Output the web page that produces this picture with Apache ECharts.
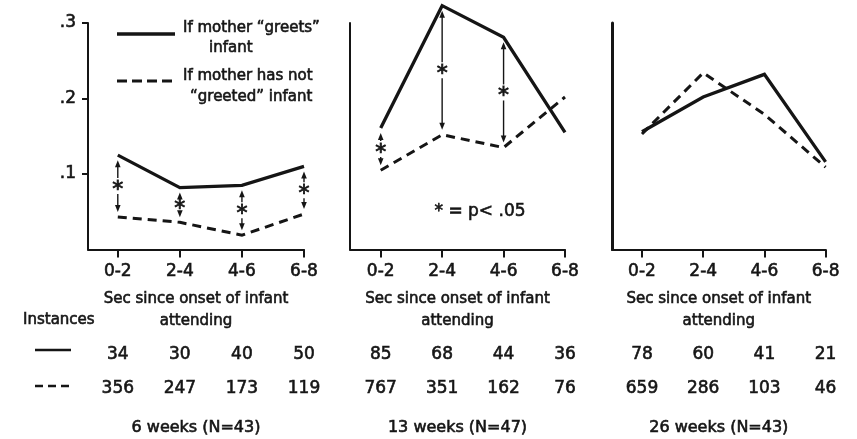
<!DOCTYPE html>
<html>
<head>
<meta charset="utf-8">
<script src="https://cdn.jsdelivr.net/npm/echarts@6/dist/echarts.min.js"></script>
<style>
  html, body { margin: 0; padding: 0; background: #fff; }
  #chart { width: 857px; height: 439px; }
</style>
</head>
<body>
<div id="chart"></div>
<script>
// Interval categories (seconds since onset of infant attending)
const categories = ['0-2', '2-4', '4-6', '6-8'];
const yTickValues = [0.1, 0.2, 0.3];
const yTickLabels = ['.1', '.2', '.3'];

// Proportions: mother "greets" infant (solid) vs has not greeted (dashed)
const greets6 = [0.125, 0.082, 0.085, 0.110];
const notGreeted6 = [0.043, 0.036, 0.019, 0.047];
const greets13 = [0.161, 0.323, 0.281, 0.155];
const notGreeted13 = [0.105, 0.152, 0.135, 0.202];
const greets26 = [0.156, 0.202, 0.232, 0.116];
const notGreeted26 = [0.153, 0.234, 0.179, 0.109];

// Significant differences (p < .05)
const sig6 = [true, true, true, true];
const sig13 = [true, true, true, false];
const sig26 = [false, false, false, false];

// Instances per interval
const instGreets6 = [34, 30, 40, 50];
const instNot6 = [356, 247, 173, 119];
const instGreets13 = [85, 68, 44, 36];
const instNot13 = [767, 351, 162, 76];
const instGreets26 = [78, 60, 41, 21];
const instNot26 = [659, 286, 103, 46];

const panelTitles = ['6 weeks (N=43)', '13 weeks (N=47)', '26 weeks (N=43)'];
const axisName = 'Sec since onset of infant\nattending';
const legendGreets = ['If mother \u201Cgreets\u201D', 'infant'];
const legendNot = ['If mother has not', '\u201Cgreeted\u201D infant'];
const pNote = '* = p< .05';
const instancesLabel = 'Instances';

const INK = '#151515';
const FONT = 'DejaVu Sans';
// slightly heavier lettering
const heavy = { textBorderColor: INK, textBorderWidth: 0.6 };

const panels = [
  { g: greets6, n: notGreeted6, sig: sig6, ig: instGreets6, inn: instNot6,
    left: 88, width: 216, xmin: -0.48, yLabels: true, yAxisW: 2 },
  { g: greets13, n: notGreeted13, sig: sig13, ig: instGreets13, inn: instNot13,
    left: 350, width: 215, xmin: -0.5, yLabels: false, yAxisW: 2 },
  { g: greets26, n: notGreeted26, sig: sig26, ig: instGreets26, inn: instNot26,
    left: 612, width: 213.6, xmin: -0.49, yLabels: false, yAxisW: 3 }
];

const idx = categories.map((c, i) => i);
const grids = [], xAxes = [], yAxes = [], series = [];

panels.forEach((p, k) => {
  grids.push({ left: p.left, top: 23, width: p.width, height: 226.5, outerBoundsMode: 'none', containLabel: false });

  const baseX = { type: 'value', gridIndex: k, position: 'bottom', offset: 0,
    min: p.xmin, max: 3, splitLine: { show: false } };
  // main category axis
  xAxes.push(Object.assign({}, baseX, {
    axisLine: { show: true, onZero: false, lineStyle: { color: INK, width: 2 } },
    axisTick: { show: true, customValues: idx, length: 8, lineStyle: { color: INK, width: 2 } },
    axisLabel: Object.assign({ customValues: idx, formatter: v => categories[v], margin: 14,
      color: INK, fontFamily: FONT, fontSize: 17 }, heavy),
    name: axisName, nameLocation: 'middle', nameGap: 39,
    nameTextStyle: Object.assign({ color: INK, fontFamily: FONT, fontSize: 15, lineHeight: 22 }, heavy)
  }));
  // instances row: mother greets
  xAxes.push(Object.assign({}, baseX, {
    axisLine: { show: false, onZero: false }, axisTick: { show: false },
    axisLabel: Object.assign({ customValues: idx, formatter: v => String(p.ig[v]), margin: 97,
      color: INK, fontFamily: FONT, fontSize: 17 }, heavy)
  }));
  // instances row: not greeted, plus panel title
  xAxes.push(Object.assign({}, baseX, {
    axisLine: { show: false, onZero: false }, axisTick: { show: false },
    axisLabel: Object.assign({ customValues: idx, formatter: v => String(p.inn[v]), margin: 131,
      color: INK, fontFamily: FONT, fontSize: 17 }, heavy),
    name: panelTitles[k], nameLocation: 'middle', nameGap: 170,
    nameTextStyle: Object.assign({ color: INK, fontFamily: FONT, fontSize: 16 }, heavy)
  }));

  yAxes.push({
    type: 'value', gridIndex: k, min: 0, max: 0.3,
    splitLine: { show: false },
    axisLine: { show: true, onZero: false, lineStyle: { color: INK, width: p.yAxisW } },
    axisTick: { show: p.yLabels, customValues: yTickValues, length: 6, lineStyle: { color: INK, width: 2 } },
    axisLabel: Object.assign({ show: p.yLabels, customValues: yTickValues,
      formatter: v => yTickLabels[yTickValues.findIndex(t => Math.abs(t - v) < 1e-6)],
      margin: 12, color: INK, fontFamily: FONT, fontSize: 17 }, heavy)
  });

  const xi = k * 3;
  series.push({
    type: 'line', name: 'greets', xAxisIndex: xi, yAxisIndex: k,
    data: p.g.map((v, i) => [i, v]), symbol: 'none', clip: false, silent: true,
    lineStyle: { color: INK, width: 3.3, join: 'miter' }
  });
  series.push({
    type: 'line', name: 'not greeted', xAxisIndex: xi, yAxisIndex: k,
    data: p.n.map((v, i) => [i, v]), symbol: 'none', clip: false, silent: true,
    lineStyle: { color: INK, width: 3, type: [9, 6], join: 'miter' }
  });
  // double-headed arrows with asterisk where the difference is significant
  series.push({
    type: 'custom', xAxisIndex: xi, yAxisIndex: k, clip: false, silent: true, z: 5,
    data: idx.filter(i => p.sig[i]).map(i => [i, p.g[i], p.n[i]]),
    encode: { x: 0, y: [1, 2] },
    renderItem: (params, api) => {
      const a = api.coord([api.value(0), api.value(1)]);
      const b = api.coord([api.value(0), api.value(2)]);
      const cx = a[0];
      const top = a[1] + 5, bot = b[1] - 5, mid = (a[1] + b[1]) / 2;
      const ls = { stroke: INK, lineWidth: 1.4 };
      const fs = { fill: INK };
      return {
        type: 'group',
        children: [
          { type: 'line', shape: { x1: cx, y1: top + 3, x2: cx, y2: mid - 8 }, style: ls },
          { type: 'line', shape: { x1: cx, y1: mid + 8, x2: cx, y2: bot - 3 }, style: ls },
          { type: 'polygon', shape: { points: [[cx, top], [cx - 2.8, top + 7], [cx + 2.8, top + 7]] }, style: fs },
          { type: 'polygon', shape: { points: [[cx, bot], [cx - 2.8, bot - 7], [cx + 2.8, bot - 7]] }, style: fs },
          { type: 'text', x: cx, y: mid + 4, style: { text: '*', fill: INK, fontFamily: FONT,
            fontSize: 22, align: 'center', verticalAlign: 'middle', stroke: INK, lineWidth: 0.8 } }
        ]
      };
    }
  });
});

const txt = (x, y, text, size, align) => ({
  type: 'text', x: x, y: y, silent: true,
  style: { text: text, fill: INK, fontFamily: FONT, fontSize: size,
    align: align || 'left', verticalAlign: 'middle', stroke: INK, lineWidth: 0.6 }
});
const seg = (x1, y1, x2, y2, w, dash) => ({
  type: 'line', silent: true, shape: { x1: x1, y1: y1, x2: x2, y2: y2 },
  style: { stroke: INK, lineWidth: w, lineDash: dash || null }
});

const graphics = [
  // legend
  seg(117, 34, 175, 34, 3.3),
  txt(183, 28, legendGreets[0], 15),
  txt(209, 48, legendGreets[1], 15),
  seg(117, 81, 175, 81, 3, [10, 5]),
  txt(183, 76, legendNot[0], 15),
  txt(190, 97, legendNot[1], 15),
  // significance note
  txt(480, 212, pNote, 17, 'center'),
  // instances table keys
  txt(23, 320, instancesLabel, 15),
  seg(35, 350, 71, 350, 2.5),
  seg(35, 386, 71, 386, 2.5, [8, 5])
];

const chart = echarts.init(document.getElementById('chart'), null, { renderer: 'canvas' });
chart.setOption({
  backgroundColor: '#ffffff',
  animation: false,
  grid: grids,
  xAxis: xAxes,
  yAxis: yAxes,
  series: series,
  graphic: graphics
});
</script>
</body>
</html>
